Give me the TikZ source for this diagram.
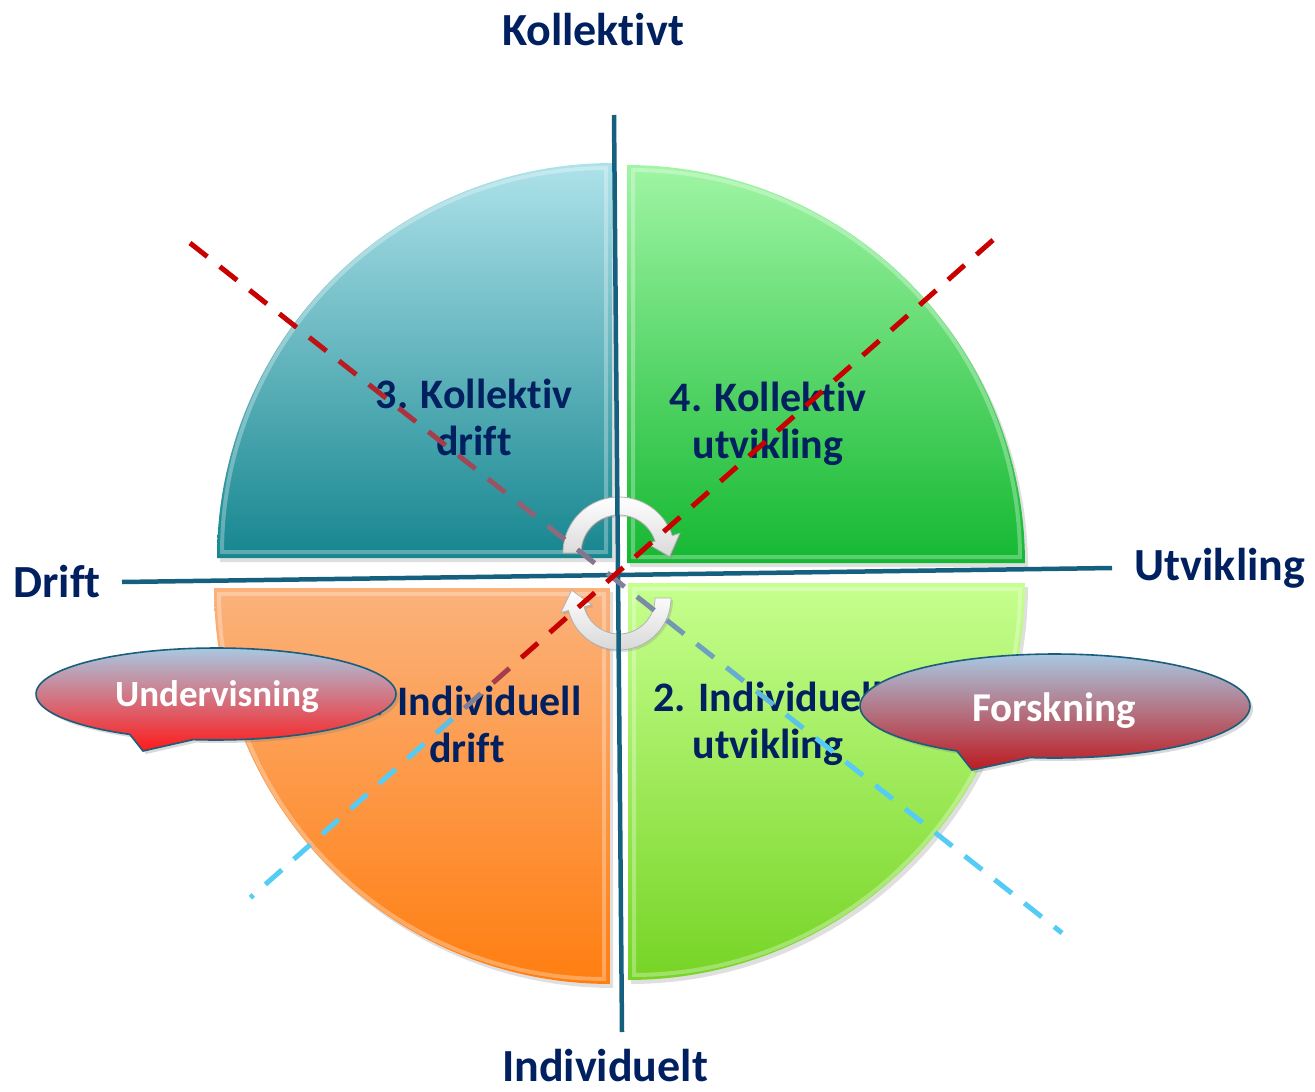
\documentclass[tikz,border=0pt]{standalone}
\usepackage{fontspec}
\setmainfont{Carlito}[Ligatures={NoCommon}]
\usetikzlibrary{shadows}
\definecolor{navy}{HTML}{002060}
\definecolor{axiscol}{HTML}{14607E}
\definecolor{dred}{HTML}{C80000}
\definecolor{lblue}{HTML}{55CCF5}
\definecolor{tealtop}{HTML}{AEE2EA}
\definecolor{tealbot}{HTML}{16868F}
\definecolor{grtop}{HTML}{A0F5A4}
\definecolor{grbot}{HTML}{14B832}
\definecolor{ortop}{HTML}{FBB27C}
\definecolor{orbot}{HTML}{FF7E10}
\definecolor{lgtop}{HTML}{C6FF8E}
\definecolor{lgbot}{HTML}{76D425}
\definecolor{calltop}{HTML}{A8C8E2}
\definecolor{callred}{HTML}{FF1A1A}
\definecolor{calldark}{HTML}{BE1A20}
\definecolor{callline}{HTML}{1B5E7B}
\begin{document}
\begin{tikzpicture}[x=1pt,y=-1pt,
  axislabel/.style={font=\bfseries\fontsize{46}{50}\selectfont, text=navy},
  quadtext/.style={font=\bfseries\fontsize{42}{47}\selectfont, text=navy, align=center},
  axisline/.style={draw=axiscol, line width=4.5},
  bevel/.style={draw=white, opacity=0.3, line width=4},
  qshadow/.style={drop shadow={opacity=0.25, shadow xshift=3pt, shadow yshift=-4pt}},
  calloutline/.style={draw=callline, line width=1.6},
  calltext/.style={text=white, font=\bfseries\fontsize{37}{40}\selectfont},
  turnarrow/.style={top color=white, bottom color=gray!30, draw=gray!60, line width=0.8,
    drop shadow={opacity=0.25, shadow xshift=2pt, shadow yshift=-2pt}},
  dashseg/.style={line width=5},
]
\useasboundingbox (0,0) rectangle (1315,1092);
% quadrants
\shade[qshadow, top color=tealtop, bottom color=tealbot] (612,558) -- plot[domain=180:270,samples=60] ({612+395*cos(\x)},{558+395*sin(\x)}) -- cycle;
\draw[bevel] (606,552) -- plot[domain=180:270,samples=60] ({606+384*cos(\x)},{552+384*sin(\x)}) -- cycle;
\shade[qshadow, top color=grtop, bottom color=grbot] (627,563) -- plot[domain=270:360,samples=60] ({627+398*cos(\x)},{563+398*sin(\x)}) -- cycle;
\draw[bevel] (633,557) -- plot[domain=270:360,samples=60] ({633+387*cos(\x)},{557+387*sin(\x)}) -- cycle;
\shade[qshadow, top color=ortop, bottom color=orbot] (610,588) -- plot[domain=90:180,samples=60] ({610+396*cos(\x)},{588+396*sin(\x)}) -- cycle;
\draw[bevel] (604,594) -- plot[domain=90:180,samples=60] ({604+385*cos(\x)},{594+385*sin(\x)}) -- cycle;
\shade[qshadow, top color=lgtop, bottom color=lgbot] (628,583) -- plot[domain=0:90,samples=60] ({628+397*cos(\x)},{583+397*sin(\x)}) -- cycle;
\draw[bevel] (634,589) -- plot[domain=0:90,samples=60] ({634+386*cos(\x)},{589+386*sin(\x)}) -- cycle;
% quadrant texts
\node[quadtext] (q3) at (474,417) {3. Kollektiv\\drift};
\node[quadtext] (q4) at (768,424) {4. Kollektiv\\utvikling};
\node[quadtext] (q1) at (467,724) {1. Individuell\\drift};
\node[quadtext] (q2) at (768,724) {2. Individuell\\utvikling};
% turning arrows
\shadedraw[turnarrow] plot[domain=180:342,samples=40] ({619+56*cos(\x)},{553+56*sin(\x)})
  -- ({619+64*cos(342)},{553+64*sin(342)}) -- ({619+47*cos(342)+19*0.309},{553+47*sin(342)+19*0.951})
  -- ({619+30*cos(342)},{553+30*sin(342)})
  -- plot[domain=342:180,samples=40] ({619+38*cos(\x)},{553+38*sin(\x)}) -- cycle;
\shadedraw[turnarrow] plot[domain=0:166,samples=40] ({619+52*cos(\x)},{598+52*sin(\x)})
  -- ({619+60*cos(166)},{598+60*sin(166)}) -- ({619+44*cos(166)-19*0.2419},{598+44*sin(166)-19*0.9703})
  -- ({619+28*cos(166)},{598+28*sin(166)})
  -- plot[domain=166:0,samples=40] ({619+36*cos(\x)},{598+36*sin(\x)}) -- cycle;
% axes
\coordinate (vtop) at (614,115);
\coordinate (vbot) at (622,1032);
\coordinate (hleft) at (122,582);
\coordinate (hright) at (1112,568);
\draw[axisline] (vtop) -- (vbot);
\draw[axisline] (hleft) -- (hright);
% dashed diagonals (colour fades from red to light blue)
\foreach \i in {0,...,29}{
  \pgfmathsetmacro\sa{\i*38}
  \pgfmathsetmacro\sb{min(\sa+22,1112)}
  \pgfmathtruncatemacro\pct{max(0,min(100,(\sa+11-100)/7))}
  \draw[dashseg, color=lblue!\pct!dred] ({190+0.7842*\sa},{243+0.6205*\sa}) -- ({190+0.7842*\sb},{243+0.6205*\sb});
}
\foreach \i in {0,...,26}{
  \pgfmathsetmacro\sa{\i*38}
  \pgfmathsetmacro\sb{min(\sa+22,992)}
  \pgfmathtruncatemacro\pct{max(0,min(100,(\sa+11-620)/1.2))}
  \draw[dashseg, color=lblue!\pct!dred] ({993-0.7486*\sa},{240+0.6630*\sa}) -- ({993-0.7486*\sb},{240+0.6630*\sb});
}
% callouts
\shadedraw[top color=calltop, bottom color=callred, calloutline, drop shadow={opacity=0.3, shadow xshift=3pt, shadow yshift=-3pt}]
  plot[domain=118.6:457.3,samples=120] ({216+180*cos(\x)},{694+46*sin(\x)}) -- (143,751) -- cycle;
\node[calltext] (und) at (217,697) {Undervisning};
\shadedraw[top color=calltop, bottom color=calldark, calloutline, drop shadow={opacity=0.3, shadow xshift=3pt, shadow yshift=-3pt}]
  plot[domain=120.2:457.4,samples=120] ({1055+195*cos(\x)},{706+52*sin(\x)}) -- (972,770) -- cycle;
\node[calltext, font=\bfseries\fontsize{41}{44}\selectfont] (fors) at (1054,711) {Forskning};
% axis labels
\node[axislabel] (kol) at (593,30) {Kollektivt};
\node[axislabel] (ind) at (605,1066) {Individuelt};
\node[axislabel] (dri) at (57,582) {Drift};
\node[axislabel] (utv) at (1220,568) {Utvikling};
\end{tikzpicture}
\end{document}
